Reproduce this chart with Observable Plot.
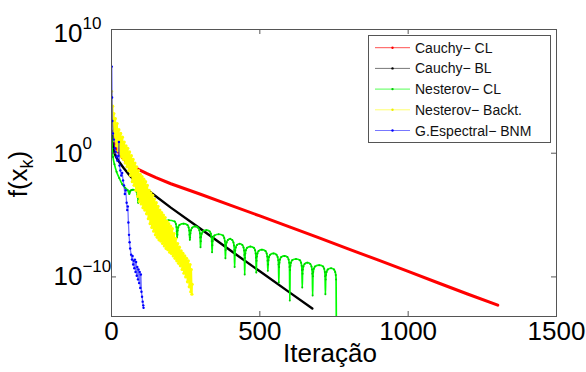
<!DOCTYPE html>
<html>
<head>
<meta charset="utf-8">
<script src="https://cdn.jsdelivr.net/npm/d3@7"></script>
<script src="https://cdn.jsdelivr.net/npm/@observablehq/plot@0.6"></script>
<style>
  html, body { margin: 0; padding: 0; background: white; }
  #chart { position: relative; width: 586px; height: 372px; }
</style>
</head>
<body>
<div id="chart"></div>
<script>
// ---- data (iteration, log10 f(x_k)) ----
const seriesNames = ["Cauchy\u2212 CL", "Cauchy\u2212 BL", "Nesterov\u2212 CL", "Nesterov\u2212 Backt.", "G.Espectral\u2212 BNM"];
const seriesColors = ["#ff0000", "#000000", "#00ff00", "#ffff00", "#0000ff"];
const legendLineColors = ["#ff5050", "#777777", "#55ff55", "#ffff70", "#7777ff"];
const legendDotColors = ["#ff0000", "#000000", "#00cc00", "#eeee00", "#0000ff"];
const xTicks = [0, 500, 1000, 1500];
const yTickExps = [10, 0, -10];
const yDomainExps = [-13.2, 10];

const cauchyCL = [[0,1.8],[5,1.2],[10,0.7],[20,0.2],[35,-0.3],[50,-0.7],[70,-1.0],[90,-1.3],[120,-1.65],[150,-1.98],[200,-2.47],[300,-3.32],[400,-4.19],[500,-5.07],[600,-5.95],[700,-6.85],[800,-7.75],[900,-8.65],[1000,-9.56],[1100,-10.47],[1200,-11.38],[1302,-12.28]];

const cauchyBL = [[0,1.8],[3,0.8],[8,0.14],[15,-0.3],[25,-0.67],[41,-1.2],[64,-1.88],[92,-2.55],[126,-3.05],[200,-4.4],[300,-6.1],[400,-7.85],[500,-9.55],[600,-11.25],[677,-12.55]];

const nesterovCL = [
  [0,1.6],[2,0.5],[5,-0.3],[10,-0.9],[17,-1.5],[26,-2.0],[36,-2.5],[46,-2.8],[55,-3.0],[60,-3.3],
  [61,-3.2],[62,-3.1],[64,-3.03],[68,-2.98],[72,-2.95],[80,-3.0],[85,-3.15],[87,-3.35],[89,-3.6],[90,-4.0],
  [91,-3.85],[92,-3.75],[94,-3.65],[98,-3.58],[108,-3.55],[116,-3.6],[120,-3.7],[123,-3.9],[125,-4.1],[126,-4.45],
  [127,-4.3],[128,-4.22],[131,-4.15],[140,-4.12],[150,-4.4],[158,-4.9],[163,-5.4],[166,-6.0],
  [167,-6.32],[168,-5.97],[170,-5.72],[174,-5.52],[193,-5.42],[213,-5.52],[217,-5.72],[219,-5.97],[220,-6.32],[221,-6.8],
  [222,-6.6],[223,-6.25],[225,-6.0],[229,-5.8],[243,-5.7],[256,-5.8],[260,-6.0],[262,-6.25],[263,-6.6],[264,-7.0],
  [265,-6.82],[266,-6.47],[268,-6.22],[272,-6.02],[282,-5.92],[292,-6.02],[296,-6.22],[298,-6.47],[299,-6.82],[300,-7.6],
  [301,-7.12],[302,-6.77],[304,-6.52],[308,-6.32],[320,-6.22],[331,-6.32],[335,-6.52],[337,-6.77],[338,-7.12],[339,-8.0],
  [340,-7.45],[341,-7.1],[343,-6.85],[347,-6.65],[361,-6.55],[376,-6.65],[380,-6.85],[382,-7.1],[383,-7.45],[384,-8.5],
  [385,-7.82],[386,-7.47],[388,-7.22],[392,-7.02],[400,-6.92],[407,-7.02],[411,-7.22],[413,-7.47],[414,-7.82],[415,-9.2],
  [416,-8.22],[417,-7.87],[419,-7.62],[423,-7.42],[432,-7.32],[441,-7.42],[445,-7.62],[447,-7.87],[448,-8.22],[449,-9.8],
  [450,-8.45],[451,-8.1],[453,-7.85],[457,-7.65],[468,-7.55],[480,-7.65],[484,-7.85],[486,-8.1],[487,-8.45],[488,-9.65],
  [489,-8.7],[490,-8.35],[492,-8.1],[496,-7.9],[507,-7.8],[519,-7.9],[523,-8.1],[525,-8.35],[526,-8.7],[527,-9.5],
  [528,-9.0],[529,-8.65],[531,-8.4],[535,-8.2],[546,-8.1],[556,-8.2],[560,-8.4],[562,-8.65],[563,-9.0],[564,-10.45],
  [565,-9.2],[566,-8.85],[568,-8.6],[572,-8.4],[583,-8.3],[593,-8.4],[597,-8.6],[599,-8.85],[600,-9.2],[601,-11.9],
  [602,-9.45],[603,-9.1],[605,-8.85],[609,-8.65],[622,-8.55],[635,-8.65],[639,-8.85],[641,-9.1],[642,-9.45],[643,-10.85],
  [644,-9.75],[645,-9.4],[647,-9.15],[651,-8.95],[660,-8.85],[670,-8.95],[674,-9.15],[676,-9.4],[677,-9.75],[678,-11.5],
  [679,-9.95],[680,-9.6],[682,-9.35],[686,-9.15],[700,-9.05],[713,-9.15],[717,-9.35],[719,-9.6],[720,-9.95],[721,-11.4],
  [722,-10.2],[723,-9.85],[725,-9.6],[729,-9.4],[740,-9.3],[750,-9.4],[754,-9.6],[756,-9.85],[757,-10.2],[758,-14]
];

const nesterovBackt = [
  [0,5.0],[2,2.2],[4,3.8],[6,1.6],[8,3.2],[10,1.0],[13,2.8],[16,0.6],[19,2.4],[22,0.2],[25,1.9],[28,-0.1],[31,1.6],[34,-0.3],[37,1.3],[40,-0.5],[43,0.9],[46,-0.8],[49,0.6],[52,-1.1],[55,0.4],[58,-1.4],[61,0.1],[64,-1.8],[67,-0.2],[70,-2.3],[73,-0.5],[76,-2.6],[79,-0.8],[82,-3.0],[85,-1.1],[88,-3.5],[91,-1.4],[94,-3.9],[97,-1.7],[100,-4.1],[103,-1.9],[106,-4.4],[109,-2.1],[112,-4.6],[115,-2.3],[118,-4.9],[121,-2.6],[124,-5.3],[127,-3.0],[130,-5.7],[133,-3.2],[136,-6.0],[139,-3.4],[142,-6.3],[145,-3.7],[148,-6.6],[151,-4.0],[154,-6.8],[157,-4.3],[160,-7.0],[163,-4.6],[166,-7.1],[169,-4.8],[172,-7.3],[175,-5.0],[178,-7.5],[181,-5.2],[184,-7.7],[187,-5.5],[190,-7.8],[193,-5.7],[196,-8.0],[199,-5.9],[202,-8.1],[205,-6.1],[208,-8.3],[211,-6.5],[214,-8.5],[217,-6.9],[220,-8.7],[223,-7.3],[226,-8.9],[229,-7.6],[232,-9.1],[235,-7.9],[238,-9.4],[241,-8.1],[244,-9.7],[247,-8.3],[250,-10.0],[253,-8.5],[256,-10.4],[259,-8.7],[262,-10.8],[265,-9.0],[267,-11.2],[269,-9.4],[271,-11.4],[272,-10.6]
];

const gEspectralBNM = [
  [0,1.6],[1,7.0],[2,4.5],[3,2.6],[5,1.6],[8,1.1],[11,0.4],[14,0.1],[17,-0.3],[20,-0.6],[23,-0.2],[25,0.9],[27,-1.0],[30,-1.4],[33,-1.8],[36,-1.6],[39,-2.2],[42,-2.6],[45,-3.3],[48,-3.0],[51,-4.0],[53,-4.6],[55,-4.3],[57,-5.6],[59,-6.6],[61,-7.2],[63,-7.7],[66,-8.2],[69,-8.6],[71,-8.3],[73,-9.0],[75,-8.7],[77,-9.3],[79,-8.6],[81,-9.6],[83,-8.8],[85,-9.9],[87,-9.2],[89,-10.2],[91,-9.4],[93,-10.5],[95,-9.6],[97,-10.9],[99,-9.8],[101,-11.2],[103,-11.6],[105,-12.0],[107,-12.3],[108,-12.5]
];

// ---- build tables ----
const toRows = pts => pts.map(([x, e]) => ({x, y: Math.pow(10, e)}));
const red = toRows(cauchyCL), black = toRows(cauchyBL), green = toRows(nesterovCL),
      yellow = toRows(nesterovBackt), blue = toRows(gEspectralBNM);

const FONT = "'Liberation Sans', Arial, Helvetica, sans-serif";

const chart = Plot.plot({
  width: 586, height: 372,
  marginLeft: 111, marginRight: 30, marginTop: 29, marginBottom: 56,
  style: {fontFamily: FONT, fontSize: "26px", background: "white", color: "black"},
  x: {domain: [0, 1500], label: null},
  y: {type: "log", domain: yDomainExps.map(e => Math.pow(10, e)), axis: null},
  marks: [
    Plot.line(red, {x: "x", y: "y", stroke: seriesColors[0], strokeWidth: 3, clip: true}),
    Plot.line(black, {x: "x", y: "y", stroke: seriesColors[1], strokeWidth: 2.4, clip: true}),
    Plot.line(green, {x: "x", y: "y", stroke: seriesColors[2], strokeWidth: 1.7, curve: "monotone-x", clip: true}),
    Plot.dot(green, {x: "x", y: "y", r: 1.0, fill: "#00cc00", clip: true}),
    Plot.line(yellow, {x: "x", y: "y", stroke: seriesColors[3], strokeWidth: 1.6, clip: true}),
    Plot.dot(yellow, {x: "x", y: "y", r: 1.6, fill: seriesColors[3], clip: true}),
    Plot.line(blue, {x: "x", y: "y", stroke: seriesColors[4], strokeOpacity: 0.55, strokeWidth: 1.3, clip: true}),
    Plot.dot(blue, {x: "x", y: "y", r: 1.2, fill: seriesColors[4], clip: true}),
    Plot.frame({stroke: "#555", strokeWidth: 1}),
    Plot.ruleX(xTicks.slice(1, -1), {stroke: "#555", insetTop: 282}),
    Plot.ruleX(xTicks.slice(1, -1), {stroke: "#555", insetBottom: 282}),
    Plot.ruleY(yTickExps.slice(1).map(e => Math.pow(10, e)), {stroke: "#555", insetRight: 440}),
    Plot.ruleY(yTickExps.slice(1).map(e => Math.pow(10, e)), {stroke: "#555", insetLeft: 440}),
    Plot.axisX(xTicks, {tickSize: 0, tickPadding: 5, fontSize: 26, tickFormat: d => String(d), label: null}),
    Plot.text(yTickExps, {
      y: e => Math.pow(10, e),
      text: e => "10^" + String(e).replace("-", "\u2212"),
      frameAnchor: "left", dx: -58, textAnchor: "start", fontSize: 26, fill: "black"
    })
  ]
});

document.getElementById("chart").appendChild(chart);

// ---- superscripts for y tick labels ----
d3.select(chart).selectAll("text").each(function() {
  const t = this.textContent;
  if (/^10\^/.test(t)) {
    const exp = t.slice(3);
    const sel = d3.select(this);
    sel.text(null);
    // the top label sits slightly inside the figure, as in the reference
    sel.append("tspan").attr("dy", exp === "10" ? 4 : 0).text("10");
    sel.append("tspan").attr("dy", -13).attr("font-size", 17).text(exp);
  }
});

const svg = d3.select(chart);

// axis titles
svg.append("text")
  .attr("x", 330).attr("y", 362)
  .attr("text-anchor", "middle")
  .attr("font-family", FONT).attr("font-size", 26)
  .text("Itera\u00e7\u00e3o");

const yl = svg.append("text")
  .attr("transform", "translate(27,174) rotate(-90)")
  .attr("text-anchor", "middle")
  .attr("font-family", FONT).attr("font-size", 26);
yl.append("tspan").text("f(x");
yl.append("tspan").attr("font-size", 18).attr("dy", 6).text("k");
yl.append("tspan").attr("dy", -6).text(")");

// legend
const lg = svg.append("g").attr("font-family", FONT).attr("text-anchor", "start");
lg.append("rect").attr("x", 368.5).attr("y", 35.5).attr("width", 182).attr("height", 107)
  .attr("fill", "white").attr("stroke", "#555");
seriesNames.forEach((name, i) => {
  const y = 47.7 + i * 20.7;
  lg.append("line").attr("x1", 375).attr("x2", 410).attr("y1", y).attr("y2", y)
    .attr("stroke", legendLineColors[i]).attr("stroke-width", 1);
  lg.append("circle").attr("cx", 392.5).attr("cy", y).attr("r", 1.2).attr("fill", legendDotColors[i]);
  lg.append("text").attr("x", 415).attr("y", y + 5).attr("font-size", 14)
    .attr("text-anchor", "start").attr("fill", "#111").text(name);
});
</script>
</body>
</html>
